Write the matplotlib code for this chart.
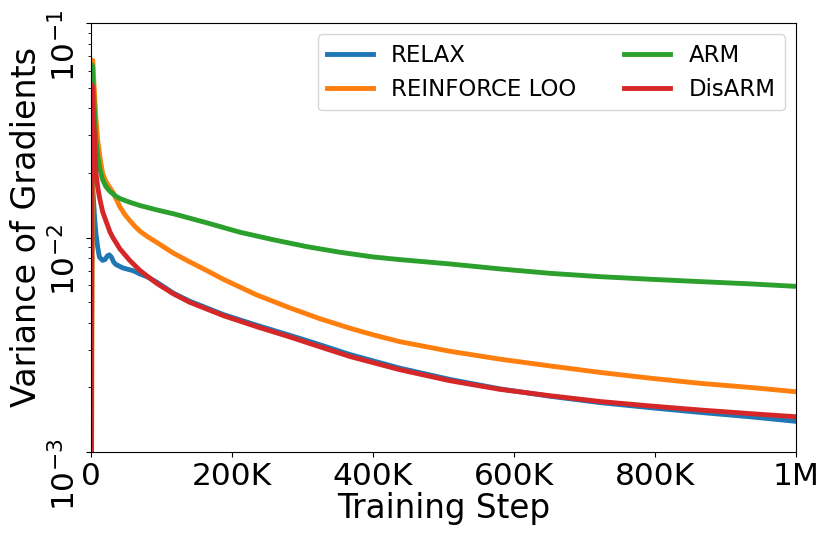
import numpy as np
import matplotlib
matplotlib.use("Agg")
from matplotlib import pyplot as plt

# training steps (thousands) and gradient variance
relax_steps = [0, 1.4, 3, 5, 7, 9.5, 12, 16.5, 20, 23, 26, 29, 32, 35, 45, 60, 69.5, 80, 93, 117, 140, 188, 235,
               282, 311, 367, 438, 509, 580, 651, 722, 793, 864, 935, 1000]
relax_var = [1e-4, 0.020, 0.016, 0.0125, 0.01045, 0.0090, 0.0081, 0.00782, 0.0079, 0.0082, 0.0083, 0.0081, 0.0077,
             0.0075, 0.00722, 0.0070, 0.00676, 0.00655, 0.0062, 0.0055, 0.00505, 0.00437, 0.0039,
             0.0035, 0.00327, 0.00285, 0.00246, 0.00218, 0.00197, 0.00182, 0.0017, 0.00161, 0.00153,
             0.00146, 0.00139]

loo_steps = [0, 2.4, 3.5, 4.7, 7, 9.5, 12.8, 16.5, 21, 27, 31, 41, 48, 55, 62, 69.5, 80, 93, 117, 140, 164, 188,
             235, 282, 325, 367, 400, 438, 509, 580, 651, 722, 793, 864, 935, 1000]
loo_var = [1e-4, 0.067, 0.058, 0.0487, 0.036, 0.0284, 0.0235, 0.0199, 0.0183, 0.0170, 0.0163, 0.0139, 0.0128,
           0.0120, 0.0113, 0.0107, 0.0101, 0.0095, 0.00845, 0.0077, 0.00702, 0.00638, 0.0054, 0.0047, 0.00418,
           0.00378, 0.00352, 0.00327, 0.00295, 0.00271, 0.00252, 0.00235, 0.00221, 0.00209, 0.0020, 0.00191]

arm_steps = [0, 1.4, 3, 5, 7, 9.5, 12, 16, 21, 27, 35, 41, 55, 69.5, 93, 117, 164, 211, 259, 306, 353, 400,
             438, 509, 580, 651, 722, 793, 864, 935, 1000]
arm_var = [1e-4, 0.0637, 0.052, 0.038, 0.0284, 0.024, 0.0212, 0.0188, 0.0173, 0.0164, 0.0156, 0.0152, 0.0146,
           0.0141, 0.01346, 0.0129, 0.01172, 0.01059, 0.00976, 0.00907, 0.00854, 0.00812, 0.00789, 0.00753,
           0.00714, 0.00681, 0.00657, 0.00639, 0.00623, 0.00608, 0.00592]

disarm_steps = [0, 1.4, 3, 4.7, 7, 9.5, 12, 16.5, 21, 27, 31, 41, 55, 69.5, 80, 93, 117, 140, 188, 235,
                282, 311, 367, 438, 509, 580, 651, 722, 793, 864, 935, 1000]
disarm_var = [1e-4, 0.0513, 0.038, 0.0306, 0.020, 0.0172, 0.0154, 0.0132, 0.012, 0.0106, 0.0100, 0.00885,
              0.00782, 0.00702, 0.0066, 0.00612, 0.00546, 0.00499, 0.00432, 0.00384, 0.00344, 0.0032,
              0.00279, 0.00242, 0.00215, 0.00196, 0.00183, 0.00172, 0.00164, 0.00157, 0.00151, 0.00146]

xtick_vals = [0, 200000, 400000, 600000, 800000, 1000000]
xtick_labels = ["0", "200K", "400K", "600K", "800K", "1M"]

fig = plt.figure(figsize=(8.31, 5.42), dpi=100)
ax = fig.add_axes([0.1095, 0.166, 0.8485, 0.7915])

lw = 3.5
ax.plot(np.array(relax_steps) * 1000, relax_var, color="#1f77b4", lw=lw, label="RELAX")
ax.plot(np.array(loo_steps) * 1000, loo_var, color="#ff7f0e", lw=lw, label="REINFORCE LOO")
ax.plot(np.array(arm_steps) * 1000, arm_var, color="#2ca02c", lw=lw, label="ARM")
ax.plot(np.array(disarm_steps) * 1000, disarm_var, color="#d62728", lw=lw, label="DisARM")

ax.set_yscale("log")
ax.set_ylim(1e-3, 1e-1)
ax.set_xlim(0, 1000000)
ax.set_xticks(xtick_vals)
ax.set_xticklabels(xtick_labels)
ax.tick_params(axis="both", labelsize=22.5)
ax.tick_params(axis="y", labelrotation=90)

ax.set_xlabel("Training Step", fontsize=23.5, labelpad=1)
ax.set_ylabel("Variance of Gradients", fontsize=24, labelpad=2)
ax.yaxis.set_label_coords(-0.068, 0.525)

ax.legend(loc="upper right", ncol=2, fontsize=16.5, columnspacing=2.1)

fig.savefig("out.png", dpi=100)
